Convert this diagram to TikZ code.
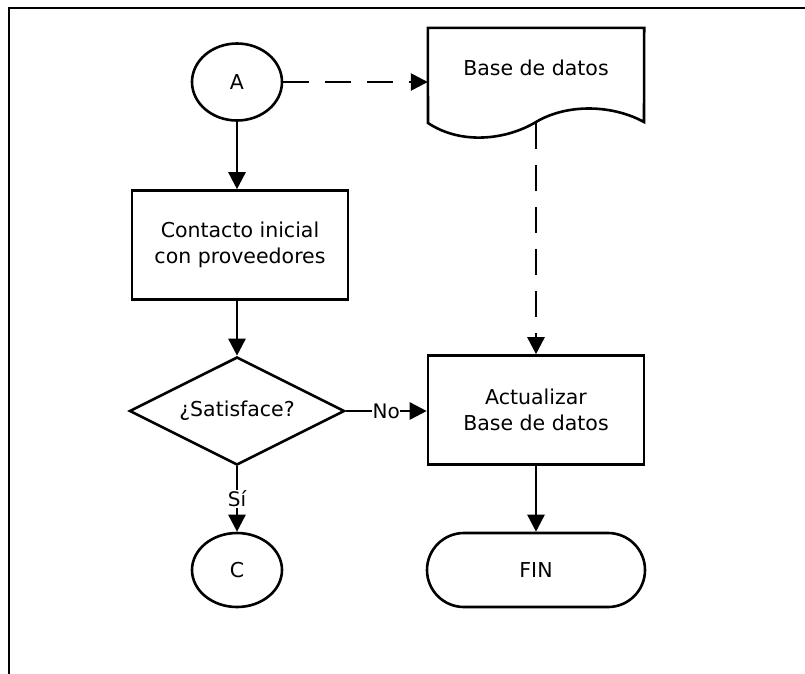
\documentclass[tikz,border=0pt]{standalone}
\usepackage{fontspec}
\setmainfont{DejaVu Sans}
\usetikzlibrary{arrows.meta,shapes.geometric}
\begin{document}
\begin{tikzpicture}[x=1pt,y=-1pt,
  every node/.style={font=\fontsize{20.5pt}{26pt}\selectfont, align=center},
  ln/.style={line width=2.6pt},
  arr/.style={ln,-{Triangle[length=17pt,width=17pt]}},
  dsh/.style={arr,dash pattern=on 26pt off 16pt},
  conn/.style={ellipse,draw,ln,minimum width=90pt,minimum height=77pt,inner sep=0pt},
  procbox/.style={rectangle,draw,ln,minimum width=216pt,minimum height=109pt},
  decis/.style={diamond,draw,ln,minimum width=215pt,minimum height=108pt,inner sep=0pt,aspect=2},
  term/.style={rectangle,rounded corners=37pt,draw,ln,minimum width=218pt,minimum height=74pt},
  lab/.style={fill=white,inner sep=0.5pt,font=\fontsize{20pt}{22pt}\selectfont}]
\useasboundingbox (0,0) rectangle (805,673);
% frame
\draw[ln] (9,690) -- (9,8) -- (830,8);
% nodes
\node[conn] (A) at (237,82) {A};
\node (doc) at (536,68) [minimum width=216pt,minimum height=80pt,inner sep=0pt] {Base de datos};
\draw[ln] (doc.north west) -- (doc.north east) -- (644,122)
  .. controls (611,104) and (566,104) .. (536,122)
  .. controls (506,140) and (461,145) .. (428,123) -- cycle;
\coordinate (docb) at (536,123);
\node[procbox] (cont) at (240,245) {Contacto inicial\\con proveedores};
\node[decis] (sat) at (237,411) {¿Satisface?};
\node[procbox] (act) at (536,410) {Actualizar\\Base de datos};
\node[conn,minimum height=74pt] (C) at (237,570) {C};
\node[term] (fin) at (536,570) {FIN};
% connectors
\draw[dsh] (A.east) -- (A.east -| doc.west);
\draw[dsh] (docb) -- (act.north);
\draw[arr] (A.south) -- (cont.north -| A.south);
\draw[arr] (cont.south -| sat.north) -- (sat.north);
\draw[arr] (sat.east) -- node[lab] {No} (act.west |- sat.east);
\draw[arr] (sat.south) -- node[lab] {Sí} (C.north);
\draw[arr] (act.south) -- (fin.north);
\end{tikzpicture}
\end{document}
